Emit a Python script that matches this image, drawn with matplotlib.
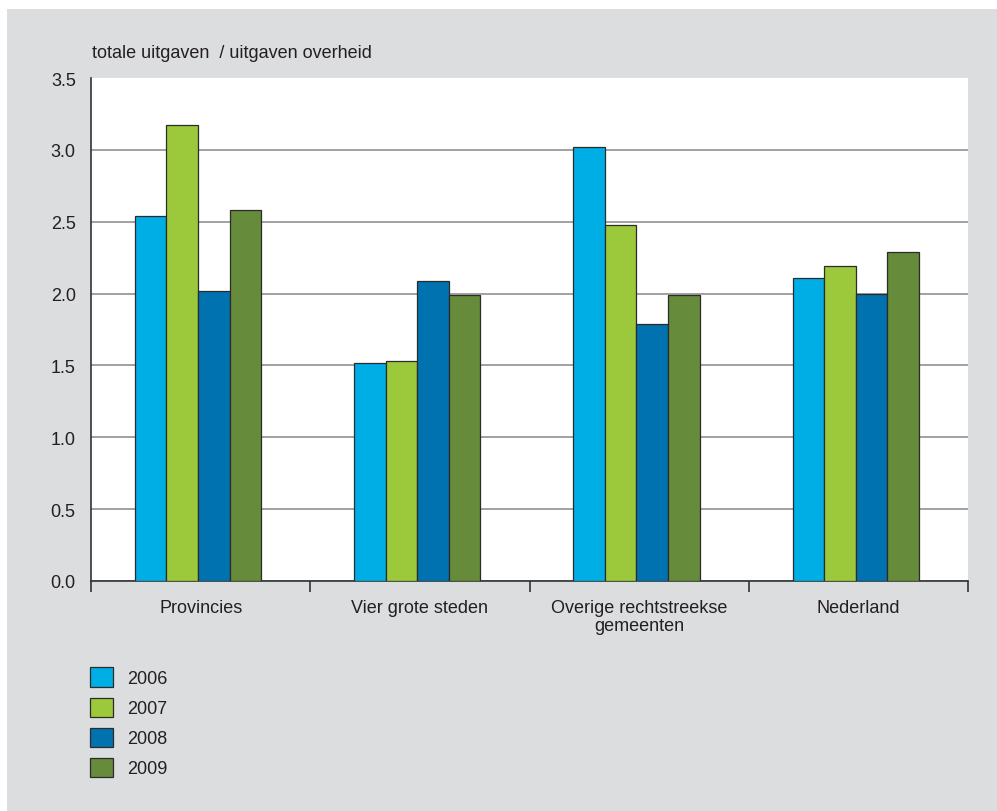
import matplotlib
matplotlib.use("Agg")
import matplotlib.pyplot as plt
import numpy as np
from matplotlib.patches import Rectangle

categories = ["Provincies", "Vier grote steden", "Overige rechtstreekse\ngemeenten", "Nederland"]
years = ["2006", "2007", "2008", "2009"]
v2006 = [2.54, 1.52, 3.02, 2.11]
v2007 = [3.17, 1.53, 2.48, 2.19]
v2008 = [2.02, 2.09, 1.79, 2.00]
v2009 = [2.58, 1.99, 1.99, 2.29]
series = [v2006, v2007, v2008, v2009]
colors = ["#00aee6", "#9bc93b", "#0072b0", "#658b3b"]
yticks = [0.0, 0.5, 1.0, 1.5, 2.0, 2.5, 3.0, 3.5]
ylabel = "totale uitgaven  / uitgaven overheid"

plt.rcParams['font.family'] = ['Liberation Sans', 'DejaVu Sans']
txt = "#231f20"
fs = 13

fig = plt.figure(figsize=(9.97, 8.12), dpi=100, facecolor="white")
fig.patches.append(Rectangle((7/997, 0), 1 - 7/997, 1 - 10/812, transform=fig.transFigure,
                             facecolor="#dcdddf", edgecolor="none", zorder=-10))

ax = fig.add_axes([91/997, 1 - 582/812, (968 - 91)/997, (582 - 79)/812])
ax.set_zorder(1)
ax.set_facecolor("white")

x = np.arange(len(categories))
w = 0.144
for i, (vals, c, yr) in enumerate(zip(series, colors, years)):
    ax.bar(x - 0.012 + (i - 1.5) * w, vals, width=w, color=c, edgecolor="#2b2b2b",
           linewidth=0.9, label=yr, zorder=3)

ax.set_xlim(-0.5, len(categories) - 0.5)
ax.set_ylim(0, 3.5)
ax.set_yticks(yticks)
ax.set_yticklabels([f"{t:.1f}" for t in yticks], fontsize=fs, color=txt)
ax.tick_params(axis="y", length=0, pad=11)
ax.yaxis.grid(True, color="#9a9a9a", linewidth=1.3, zorder=1)
ax.get_ygridlines()[-1].set_visible(False)
ax.set_axisbelow(True)

ax.set_xticks(x)
ax.set_xticklabels(categories, fontsize=fs, color=txt, linespacing=1.1)
ax.tick_params(axis="x", which="major", length=0, pad=13)
ax.set_xticks(np.arange(-0.5, len(categories), 1.0), minor=True)
ax.tick_params(axis="x", which="minor", length=8, width=1.2, color="#333333", direction="out")

for s in ["top", "right"]:
    ax.spines[s].set_visible(False)
ax.spines["left"].set_color("#333333")
ax.spines["left"].set_linewidth(1.2)
ax.spines["bottom"].set_color("#333333")
ax.spines["bottom"].set_linewidth(1.2)

fig.text(92/997, 1 - 58/812, ylabel, fontsize=fs, color=txt, ha="left", va="baseline")

leg = ax.legend(loc="upper left", bbox_to_anchor=(85/997, 1 - 663/812),
                bbox_transform=fig.transFigure, frameon=False, fontsize=fs,
                handlelength=1.25, handleheight=1.25, labelspacing=0.58,
                handletextpad=0.8, borderaxespad=0, borderpad=0.3)
for t in leg.get_texts():
    t.set_color(txt)

fig.savefig("out.png", dpi=100, facecolor=fig.get_facecolor())
